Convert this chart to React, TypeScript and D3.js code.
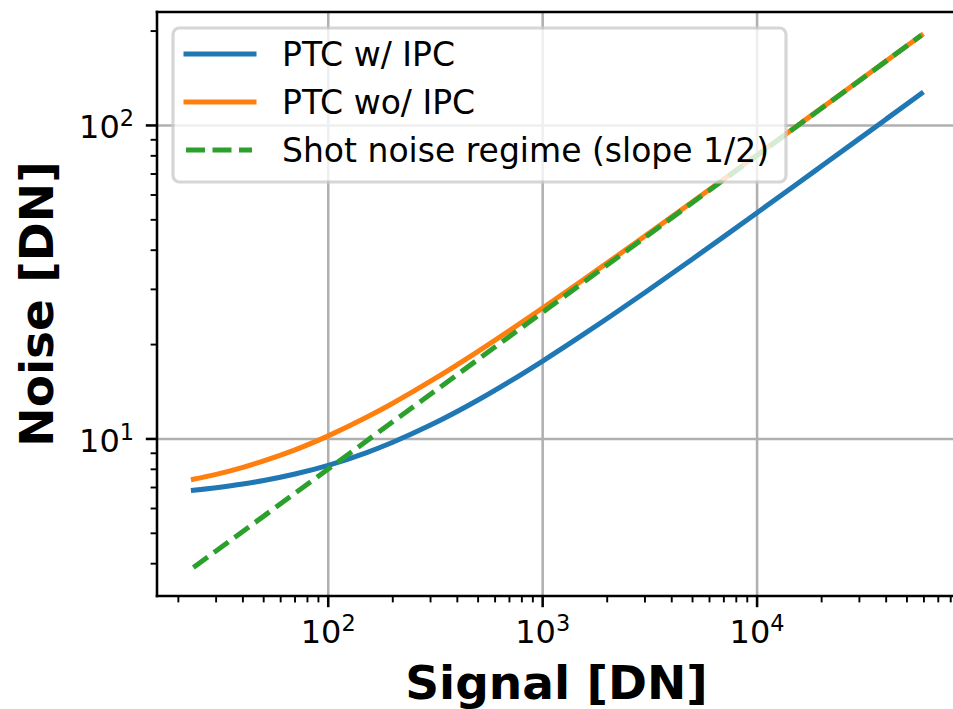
import React from 'react';
import * as d3 from 'd3';

// ---- data ----
const signal = [23.5, 30, 40, 50, 70, 100, 150, 200, 300, 500, 700, 1000, 1500, 2000, 3000, 5000, 7000, 10000, 15000, 20000, 30000, 40000, 58400];
const noiseWithIPC = [6.86, 6.99, 7.18, 7.37, 7.73, 8.24, 9.03, 9.76, 11.07, 13.31, 15.23, 17.72, 21.23, 24.23, 29.33, 37.51, 44.2, 52.67, 64.34, 74.21, 90.77, 104.75, 126.5];
const noiseWithoutIPC = [7.44, 7.71, 8.12, 8.51, 9.23, 10.23, 11.7, 13.0, 15.28, 19.03, 22.16, 26.16, 31.72, 36.44, 44.41, 57.1, 67.44, 80.5, 98.49, 113.7, 139.1, 160.6, 194.0];
const shotSignal = [23.5, 100, 1000, 10000, 58400];
const shotNoise = [3.89, 8.02, 25.37, 80.24, 193.9];
const seriesLabels = ['PTC w/ IPC', 'PTC wo/ IPC', 'Shot noise regime (slope 1/2)'];
const seriesColors = ['#1f77b4', '#ff7f0e', '#2ca02c'];
const xMajorTicks = [100, 1000, 10000];
const yMajorTicks = [10, 100];
const xLabel = 'Signal [DN]';
const yLabel = 'Noise [DN]';

const W = 953;
const H = 709;
const FONT = 'DejaVu Sans, sans-serif';

export default function App() {
  const left = 157, right = 958, top = 12, bottom = 596;
  const x = d3.scaleLog().domain([15.9, 86500]).range([left, right]);
  const y = d3.scaleLog().domain([3.155, 230.1]).range([bottom, top]);

  const isMajor = (v: number) => Math.abs(Math.log10(v) - Math.round(Math.log10(v))) < 1e-9;
  const xMinor = x.ticks().filter((v) => !isMajor(v));
  const yMinor = y.ticks().filter((v) => !isMajor(v));

  const line = d3
    .line<[number, number]>()
    .curve(d3.curveMonotoneX)
    .x((d) => x(d[0]))
    .y((d) => y(d[1]));

  const blue = line(signal.map((s, i) => [s, noiseWithIPC[i]]) as [number, number][]) || '';
  const orange = line(signal.map((s, i) => [s, noiseWithoutIPC[i]]) as [number, number][]) || '';
  const green = d3
    .line<[number, number]>()
    .x((d) => x(d[0]))
    .y((d) => y(d[1]))(shotSignal.map((s, i) => [s, shotNoise[i]]) as [number, number][]) || '';

  const lw = 5;
  const spineW = 2.56;
  const gridColor = '#b0b0b0';

  const legendX = 173, legendY = 28, legendW = 613, legendH = 154;
  const rowY = [54, 102, 150];

  return (
    <svg
      width={W}
      height={H}
      style={{ position: 'absolute', left: 0, top: 0, background: '#fff' }}
      fontFamily={FONT}
    >
      <rect x={0} y={0} width={W} height={H} fill="#fff" />
      {/* grid */}
      {xMajorTicks.map((t) => (
        <line key={'gx' + t} x1={x(t)} x2={x(t)} y1={top} y2={bottom} stroke={gridColor} strokeWidth={2.56} />
      ))}
      {yMajorTicks.map((t) => (
        <line key={'gy' + t} x1={left} x2={right} y1={y(t)} y2={y(t)} stroke={gridColor} strokeWidth={2.56} />
      ))}

      {/* data lines */}
      <path d={blue} fill="none" stroke={seriesColors[0]} strokeWidth={lw} strokeLinecap="square" strokeLinejoin="round" />
      <path d={orange} fill="none" stroke={seriesColors[1]} strokeWidth={lw} strokeLinecap="square" strokeLinejoin="round" />
      <path d={green} fill="none" stroke={seriesColors[2]} strokeWidth={lw} strokeDasharray="17.8 7.7" strokeLinecap="butt" />

      {/* spines */}
      <line x1={left} x2={left} y1={top} y2={bottom} stroke="#000" strokeWidth={spineW} strokeLinecap="square" />
      <line x1={left} x2={right} y1={bottom} y2={bottom} stroke="#000" strokeWidth={spineW} strokeLinecap="square" />
      <line x1={left} x2={right} y1={top} y2={top} stroke="#000" strokeWidth={spineW} strokeLinecap="square" />
      <line x1={right} x2={right} y1={top} y2={bottom} stroke="#000" strokeWidth={spineW} />

      {/* x ticks */}
      {xMajorTicks.map((t) => (
        <g key={'xt' + t}>
          <line x1={x(t)} x2={x(t)} y1={bottom} y2={bottom + 11.2} stroke="#000" strokeWidth={2.56} />
          <text x={x(t)} y={643} textAnchor="middle" fontSize={32} fill="#000">
            10<tspan fontSize={22.4} dy={-12}>{Math.round(Math.log10(t))}</tspan>
          </text>
        </g>
      ))}
      {xMinor.map((t) => (
        <line key={'xm' + t} x1={x(t)} x2={x(t)} y1={bottom} y2={bottom + 6.4} stroke="#000" strokeWidth={1.92} />
      ))}

      {/* y ticks */}
      {yMajorTicks.map((t) => (
        <g key={'yt' + t}>
          <line x1={left} x2={left - 11.2} y1={y(t)} y2={y(t)} stroke="#000" strokeWidth={2.56} />
          <text x={134} y={y(t) + 13} textAnchor="end" fontSize={32} fill="#000">
            10<tspan fontSize={22.4} dy={-12}>{Math.round(Math.log10(t))}</tspan>
          </text>
        </g>
      ))}
      {yMinor.map((t) => (
        <line key={'ym' + t} x1={left} x2={left - 6.4} y1={y(t)} y2={y(t)} stroke="#000" strokeWidth={1.92} />
      ))}

      {/* axis labels */}
      <text x={(left + right) / 2 - 1} y={699} textAnchor="middle" fontSize={47} fontWeight="bold" fill="#000">
        {xLabel}
      </text>
      <text
        transform={`translate(53, ${(top + bottom) / 2}) rotate(-90)`}
        textAnchor="middle"
        fontSize={47}
        fontWeight="bold"
        fill="#000"
      >
        {yLabel}
      </text>

      {/* legend */}
      <rect
        x={legendX}
        y={legendY}
        width={legendW}
        height={legendH}
        rx={6.4}
        ry={6.4}
        fill="#fff"
        stroke="#cccccc"
        strokeWidth={3.2}
        opacity={0.8}
      />
      {seriesLabels.map((lab, i) => (
        <g key={'lg' + i}>
          <line
            x1={186}
            x2={i === 2 ? 252 : 254}
            y1={rowY[i]}
            y2={rowY[i]}
            stroke={seriesColors[i]}
            strokeWidth={lw}
            strokeLinecap={i === 2 ? 'butt' : 'square'}
            strokeDasharray={i === 2 ? '19 7.5' : undefined}
          />
          <text x={282} y={rowY[i] + 12} fontSize={33} fill="#000">
            {lab}
          </text>
        </g>
      ))}
    </svg>
  );
}
